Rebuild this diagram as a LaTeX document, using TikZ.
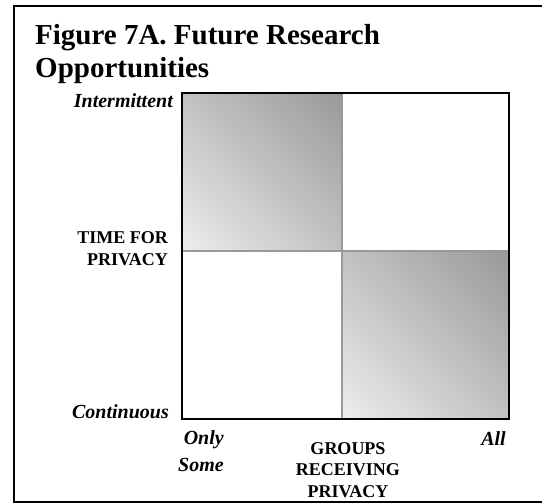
\documentclass[tikz,border=0pt]{standalone}
\usepackage{fontspec}
\setmainfont{Liberation Serif}
\usetikzlibrary{positioning, shadings}
\tikzset{
    quadchart/.style={x=1pt, y=-1pt},
    heading/.style={font=\fontsize{29}{33}\selectfont\bfseries, align=left, anchor=base west, inner sep=0pt},
    axislabel/.style={font=\fontsize{18}{21.5}\selectfont\bfseries, inner sep=0pt},
    endlabel/.style={font=\fontsize{20}{26.5}\selectfont\bfseries\itshape, inner sep=0pt},
    % dark in the upper right, fading to the lower left
    shadedcell/.style={upper right=black!40, lower left=black!7, upper left=black!24, lower right=black!24},
    divider/.style={draw=black!40, line width=1.5pt},
}

\begin{document}
\begin{tikzpicture}[quadchart]
    \useasboundingbox (0,0) rectangle (542,504);
    % frame round the figure, open on the right
    \draw[line width=2.5pt] (542,6) -| (14,502) -- (542,502);
    % multi-line nodes sit on the baseline of their last line
    \node[heading] (title) at (35,77) {Figure 7A. Future Research\\Opportunities};

    % corners and centre of the chart
    \coordinate (sw)  at (182,419);
    \coordinate (ne)  at (509,93);
    \coordinate (mid) at (342,251);

    % quadrants
    \shade[shadedcell] (sw |- ne) rectangle (mid);
    \shade[shadedcell] (mid) rectangle (sw -| ne);
    \draw[divider] (mid |- ne) -- (mid |- sw);
    \draw[divider] (mid -| sw) -- (mid -| ne);
    \draw[line width=2pt] (sw) rectangle (ne);

    % vertical axis
    \node[endlabel, anchor=base east]              (intermittent) at (173,107) {Intermittent};
    \node[axislabel, anchor=base east, align=right] (timelabel)   at (168,265) {TIME FOR\\PRIVACY};
    \node[endlabel, anchor=base east]              (continuous)   at (169,418) {Continuous};

    % horizontal axis
    \node[endlabel, anchor=base east, align=right] (onlysome)    at (224,471) {Only\\Some};
    \node[axislabel, anchor=base, align=center]    (groupslabel) at (348,497) {GROUPS\\RECEIVING\\PRIVACY};
    \node[endlabel, anchor=base east]              (all)         at (506,445) {All};
\end{tikzpicture}
\end{document}
